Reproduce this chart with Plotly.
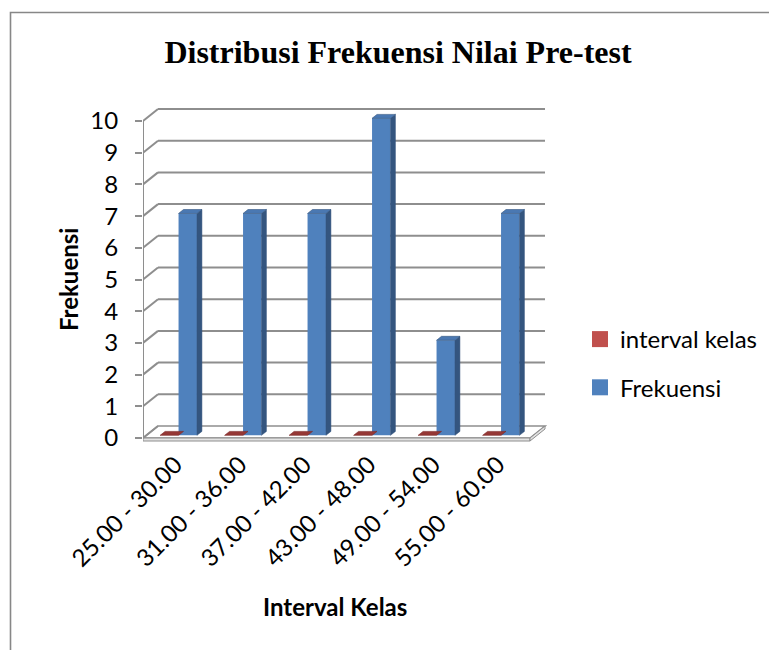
import plotly.graph_objects as go

# ---------------- data ----------------
categories = ["25.00 - 30.00", "31.00 - 36.00", "37.00 - 42.00",
              "43.00 - 48.00", "49.00 - 54.00", "55.00 - 60.00"]
interval_kelas = [0, 0, 0, 0, 0, 0]
frekuensi = [7, 7, 7, 10, 3, 7]
y_ticks = [0, 1, 2, 3, 4, 5, 6, 7, 8, 9, 10]

# ---------------- layout constants (page pixels) ----------------
OFF = 8                              # default page body margin
W_FIG, H_FIG = 777, 650
L, R, T, B = 143 - OFF, 560 - OFF, 100 - OFF, 445 - OFF   # plot area (figure px)
SX = 64.5                            # px per category
SY = 31.7                            # px per unit value
Y0PIX = 438 - OFF                    # pixel of value 0 on the front axis
DEPTH_PX = (15, 12)                  # wall depth offset in px (right, up)

x_min = -0.5
x_max = x_min + (R - L) / SX
y_min = -(B - Y0PIX) / SY
y_max = (Y0PIX - T) / SY
DX = DEPTH_PX[0] / SX
DY = DEPTH_PX[1] / SY
n = len(categories)

BAR_W = 1 / 3.5                      # Excel gap width 150 %
F0, F1 = 0.22, 0.55                  # bar depth span (fraction of wall depth)

GRID = "#8e8e8e"
series = [
    dict(name="interval kelas", values=interval_kelas, off=-BAR_W,
         front="#c0504d", side="#7a2927", top="#953735"),
    dict(name="Frekuensi", values=frekuensi, off=0.0,
         front="#4f81bd", side="#34557f", top="#4a78b2"),
]


def px_x(p):   # page px -> paper x
    return (p - OFF - L) / (R - L)


def px_y(p):   # page px -> paper y
    return (B - (p - OFF)) / (B - T)


fig = go.Figure()
shapes = []

# outer chart frame
shapes.append(dict(type="rect", xref="paper", yref="paper",
                   x0=px_x(10.5), x1=px_x(820), y0=px_y(720), y1=px_y(12.5),
                   line=dict(color="#878787", width=1.6), layer="below"))

# floor slab
fx0, fx1 = x_min, n - 0.5
thick = 3 / SY
shapes.append(dict(type="path", xref="x", yref="y", layer="below",
                   path=f"M{fx0},0 L{fx1},0 L{fx1+DX},{DY} L{fx0+DX},{DY} Z",
                   fillcolor="white", line=dict(color=GRID, width=1.6)))
shapes.append(dict(type="path", xref="x", yref="y", layer="below",
                   path=f"M{fx0},0 L{fx1},0 L{fx1},{-thick} L{fx0},{-thick} Z",
                   fillcolor="#e3e3e3", line=dict(color=GRID, width=1.0)))
shapes.append(dict(type="path", xref="x", yref="y", layer="below",
                   path=f"M{fx1},0 L{fx1+DX},{DY} L{fx1+DX},{DY-thick} L{fx1},{-thick} Z",
                   fillcolor="#e3e3e3", line=dict(color=GRID, width=1.0)))

# back wall gridlines + side wall diagonals
for v in y_ticks:
    if v > 0:
        shapes.append(dict(type="line", xref="x", yref="y", layer="below",
                           x0=fx0 + DX, x1=fx1 + DX, y0=v + DY, y1=v + DY,
                           line=dict(color=GRID, width=2)))
    shapes.append(dict(type="line", xref="x", yref="y", layer="below",
                       x0=fx0, x1=fx0 + DX, y0=v, y1=v + DY,
                       line=dict(color=GRID, width=2)))
# front value axis line
shapes.append(dict(type="line", xref="x", yref="y", layer="below",
                   x0=fx0, x1=fx0, y0=y_ticks[0], y1=y_ticks[-1],
                   line=dict(color=GRID, width=2)))

# bars: front faces, then side & top faces
base = F0 * DY
d, dd = (F1 - F0) * DX, (F1 - F0) * DY
for s in series:
    fig.add_trace(go.Bar(
        x=list(range(n)), y=s["values"], base=base, width=BAR_W,
        offset=s["off"] + F0 * DX, name=s["name"], showlegend=False,
        marker=dict(color=s["front"], line=dict(width=0)),
        hoverinfo="skip"))
for s in series:
    for i, v in enumerate(s["values"]):
        x0 = i + s["off"] + F0 * DX
        x1 = x0 + BAR_W
        yt = v + base
        if v > 0:
            fig.add_trace(go.Scatter(
                x=[x1, x1, x1 + d, x1 + d, x1], y=[base, yt, yt + dd, base + dd, base],
                mode="lines", fill="toself", fillcolor=s["side"],
                line=dict(color=s["side"], width=0.5), showlegend=False,
                hoverinfo="skip"))
        fig.add_trace(go.Scatter(
            x=[x0, x1, x1 + d, x0 + d, x0], y=[yt, yt, yt + dd, yt + dd, yt],
            mode="lines", fill="toself", fillcolor=s["top"],
            line=dict(color=s["side"], width=0.6), showlegend=False,
            hoverinfo="skip"))
# legend entries (square swatches)
for s in series:
    fig.add_trace(go.Scatter(
        x=[None], y=[None], mode="markers", name=s["name"], legendgroup=s["name"],
        marker=dict(symbol="square", size=16, color=s["front"]),
        hoverinfo="skip"))

annotations = [
    dict(text="<b>Interval Kelas</b>", xref="paper", yref="paper",
         x=px_x(335), y=px_y(606), xanchor="center", yanchor="middle",
         showarrow=False, font=dict(family="Lato", size=24, color="black")),
    dict(text="<b>Frekuensi</b>", xref="paper", yref="paper",
         x=px_x(68), y=px_y(280), xanchor="center", yanchor="middle",
         textangle=-90, showarrow=False,
         font=dict(family="Lato", size=24, color="black")),
]

fig.update_layout(
    width=W_FIG, height=H_FIG,
    margin=dict(l=L, r=W_FIG - R, t=T, b=H_FIG - B, pad=0),
    paper_bgcolor="white", plot_bgcolor="white",
    barmode="overlay", showlegend=True,
    title=dict(text="<b>Distribusi Frekuensi Nilai Pre-test</b>",
               x=(398 - OFF) / W_FIG, xanchor="center",
               y=1 - (52 - OFF) / H_FIG, yanchor="middle",
               font=dict(family="Liberation Serif", size=32, color="black")),
    font=dict(family="Lato", size=24, color="black"),
    legend=dict(x=px_x(580), xanchor="left",
                y=px_y(317), yanchor="top",
                font=dict(family="Lato", size=24, color="black"),
                tracegroupgap=14, traceorder="grouped", itemsizing="trace",
                bgcolor="rgba(0,0,0,0)", itemclick=False),
    shapes=shapes,
    annotations=annotations,
)
fig.update_xaxes(range=[x_min, x_max], tickvals=list(range(n)), ticktext=categories,
                 tickangle=-45, showgrid=False, zeroline=False, showline=False,
                 ticks="", tickfont=dict(family="Lato", size=24))
fig.update_yaxes(range=[y_min, y_max], tickvals=y_ticks, showgrid=False,
                 zeroline=False, showline=False, ticks="outside", ticklen=7,
                 tickcolor=GRID, tickwidth=2, ticklabelstandoff=12,
                 tickfont=dict(family="Lato", size=24))

fig.write_html("out.html")
